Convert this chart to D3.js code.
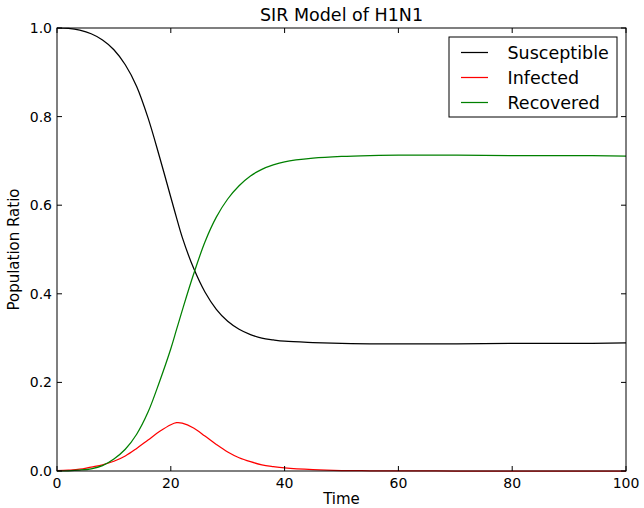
<!DOCTYPE html>
<html>
<head>
<meta charset="utf-8">
<script src="https://cdn.jsdelivr.net/npm/d3@7"></script>
<style>
  body { margin: 0; background: #fff; }
  svg { display: block; font-family: "DejaVu Sans", sans-serif; }
  .frame { fill: none; stroke: #000; stroke-width: 1; }
  .tick-mark { stroke: #000; stroke-width: 1; }
  .curve { fill: none; stroke-width: 1.25; }
</style>
</head>
<body>
<svg width="644" height="508"></svg>
<script>
const width = 644;
const height = 508;
const svg = d3.select("svg");

// values
const times = [0, 2, 4, 6, 8, 10, 12, 14, 16, 18, 20, 21, 22, 24, 26, 28, 30, 32, 34, 36, 38, 40, 45, 50, 55, 60, 70, 80, 90, 100];
const susceptible = [1.000, 0.999, 0.995, 0.987, 0.973, 0.951, 0.917, 0.868, 0.797, 0.710, 0.618, 0.572, 0.528, 0.458, 0.404, 0.365, 0.338, 0.320, 0.308, 0.300, 0.296, 0.293, 0.290, 0.288, 0.287, 0.287, 0.287, 0.288, 0.288, 0.289];
const infected = [0.001, 0.002, 0.004, 0.009, 0.014, 0.022, 0.034, 0.051, 0.070, 0.089, 0.1045, 0.109, 0.108, 0.097, 0.079, 0.060, 0.043, 0.030, 0.021, 0.014, 0.010, 0.007, 0.003, 0.001, 0.0005, 0.0002, 0, 0, 0, 0];
const recovered = [0.000, 0.0005, 0.002, 0.005, 0.012, 0.027, 0.049, 0.083, 0.133, 0.201, 0.276, 0.319, 0.362, 0.444, 0.517, 0.573, 0.614, 0.644, 0.666, 0.681, 0.691, 0.698, 0.706, 0.710, 0.712, 0.713, 0.713, 0.712, 0.712, 0.711];
const xTicks = [0, 20, 40, 60, 80, 100];
const yTicks = [0.0, 0.2, 0.4, 0.6, 0.8, 1.0];

const series = [
    { name: "Susceptible", values: susceptible, color: "#000000" },
    { name: "Infected", values: infected, color: "#ff0000" },
    { name: "Recovered", values: recovered, color: "#008000" }
];

const plot = { left: 57, top: 28, right: 626, bottom: 471 };

const x = d3.scaleLinear().domain([0, 100]).range([plot.left, plot.right]);
const y = d3.scaleLinear().domain([0, 1]).range([plot.bottom, plot.top]);

const line = d3.line()
    .x((d, i) => x(times[i]))
    .y(d => y(d))
    .curve(d3.curveCatmullRom.alpha(0.5));

// curves
svg.append("g")
    .selectAll("path")
    .data(series)
    .enter()
    .append("path")
    .attr("class", "curve")
    .attr("stroke", d => d.color)
    .attr("d", d => line(d.values));

// frame
svg.append("rect")
    .attr("class", "frame")
    .attr("x", plot.left)
    .attr("y", plot.top)
    .attr("width", plot.right - plot.left)
    .attr("height", plot.bottom - plot.top);

// ticks, pointing inward on all four sides
const tickLen = 5;
const ticks = svg.append("g");
xTicks.forEach(t => {
    ticks.append("line").attr("class", "tick-mark")
        .attr("x1", x(t)).attr("x2", x(t))
        .attr("y1", plot.bottom).attr("y2", plot.bottom - tickLen);
    ticks.append("line").attr("class", "tick-mark")
        .attr("x1", x(t)).attr("x2", x(t))
        .attr("y1", plot.top).attr("y2", plot.top + tickLen);
    ticks.append("text")
        .attr("x", x(t))
        .attr("y", 488)
        .attr("text-anchor", "middle")
        .attr("font-size", 14)
        .text(d3.format("d")(t));
});
yTicks.forEach(t => {
    ticks.append("line").attr("class", "tick-mark")
        .attr("x1", plot.left).attr("x2", plot.left + tickLen)
        .attr("y1", y(t)).attr("y2", y(t));
    ticks.append("line").attr("class", "tick-mark")
        .attr("x1", plot.right).attr("x2", plot.right - tickLen)
        .attr("y1", y(t)).attr("y2", y(t));
    ticks.append("text")
        .attr("x", 52)
        .attr("y", y(t) + 5)
        .attr("text-anchor", "end")
        .attr("font-size", 14)
        .text(d3.format(".1f")(t));
});

// title and axis labels
svg.append("text")
    .attr("x", (plot.left + plot.right) / 2)
    .attr("y", 21)
    .attr("text-anchor", "middle")
    .attr("font-size", 17.5)
    .text("SIR Model of H1N1");

svg.append("text")
    .attr("x", (plot.left + plot.right) / 2)
    .attr("y", 504)
    .attr("text-anchor", "middle")
    .attr("font-size", 15)
    .text("Time");

svg.append("text")
    .attr("transform", `translate(19,${(plot.top + plot.bottom) / 2}) rotate(-90)`)
    .attr("text-anchor", "middle")
    .attr("font-size", 15)
    .text("Population Ratio");

// legend
const legend = svg.append("g").attr("transform", "translate(449,37)");
legend.append("rect")
    .attr("width", 168)
    .attr("height", 80)
    .attr("fill", "#fff")
    .attr("stroke", "#000")
    .attr("stroke-width", 1);

const rows = legend.selectAll("g.row")
    .data(series)
    .enter()
    .append("g")
    .attr("class", "row")
    .attr("transform", (d, i) => `translate(0,${15.5 + i * 25})`);

rows.append("line")
    .attr("x1", 12).attr("x2", 39)
    .attr("y1", 0).attr("y2", 0)
    .attr("stroke", d => d.color)
    .attr("stroke-width", 1.25);

rows.append("text")
    .attr("x", 58.5)
    .attr("y", 6.5)
    .attr("font-size", 17.5)
    .text(d => d.name);
</script>
</body>
</html>
